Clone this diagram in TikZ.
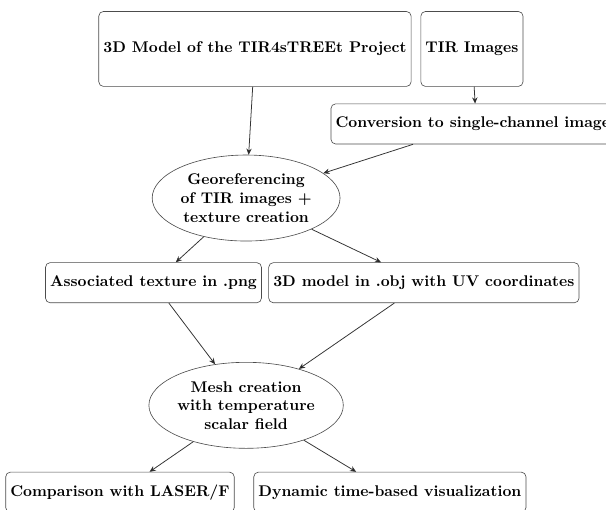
\documentclass[tikz,border=0pt]{standalone}
\usetikzlibrary{shapes.geometric,arrows.meta}
\tikzset{
  box/.style={draw=black!70, rounded corners=3pt, font=\bfseries, minimum height=0.91cm, inner xsep=3pt},
  bigbox/.style={box, minimum height=1.7cm},
  oval/.style={draw=black!70, ellipse, font=\bfseries, align=center, minimum width=4.26cm, minimum height=1.95cm, inner sep=0pt},
  flow/.style={draw=black!80, line width=0.5pt, -{Stealth[length=4pt,width=3.5pt]}}
}
\begin{document}
\begin{tikzpicture}
\useasboundingbox (0,0) rectangle (13.74,-11.56);
\node[bigbox, minimum width=6.85cm] (model) at (5.78,-1.11) {3D Model of the TIR4sTREEt Project};
\node[bigbox, minimum width=2.24cm] (tir) at (10.70,-1.11) {TIR Images};
\node[box] (conv) at (10.80,-2.81) {Conversion to single-channel images};
\node[oval] (geo) at (5.58,-4.49) {Georeferencing\\of TIR images +\\texture creation};
\node[box, minimum width=4.74cm] (tex) at (3.48,-6.41) {Associated texture in .png};
\node[box, minimum width=6.78cm] (obj) at (9.61,-6.41) {3D model in .obj with UV coordinates};
\node[oval] (mesh) at (5.58,-9.19) {Mesh creation\\with temperature\\scalar field};
\node[box, minimum width=5.01cm] (laser) at (2.72,-11.16) {Comparison with LASER/F};
\node[box, minimum width=5.94cm] (dyn) at (8.84,-11.16) {Dynamic time-based visualization};
\draw [flow] (model) edge (geo);
\draw [flow] (tir) edge (conv);
\draw [flow] (conv) edge (geo);
\draw [flow] (geo) edge (tex);
\draw [flow] (geo) edge (obj);
\draw [flow] (tex) edge (mesh);
\draw [flow] (obj) edge (mesh);
\draw [flow] (mesh) edge (laser);
\draw [flow] (mesh) edge (dyn);
\end{tikzpicture}
\end{document}
